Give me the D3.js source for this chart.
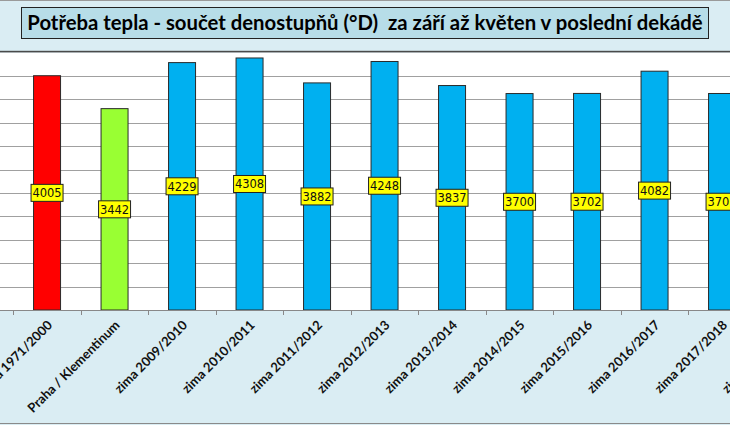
<!DOCTYPE html>
<html><head><meta charset="utf-8">
<script src="https://cdn.jsdelivr.net/npm/d3@7"></script>
<style>html,body{margin:0;padding:0;background:#fff;overflow:hidden}</style>
</head><body>
<svg id="c" width="730" height="425"></svg>
<script>
const title = "Potřeba tepla - součet denostupňů (°D)  za září až květen v poslední dekádě";
const categories = ["Praha / Klementinum - norma 1971/2000","Praha / Klementinum","zima 2009/2010","zima 2010/2011","zima 2011/2012","zima 2012/2013","zima 2013/2014","zima 2014/2015","zima 2015/2016","zima 2016/2017","zima 2017/2018","zima 2018/2019"];
const values = [4005,3442,4229,4308,3882,4248,3837,3700,3702,4082,3701,null];
const barColors = ["#ff0000","#99ff33","#00b0f0","#00b0f0","#00b0f0","#00b0f0","#00b0f0","#00b0f0","#00b0f0","#00b0f0","#00b0f0","#00b0f0"];
const yTicks = [400,800,1200,1600,2000,2400,2800,3200,3600,4000];
const yMax = 4400;

const W = 730, H = 425;
const svg = d3.select("#c");
const plotTop = 52.6, plotBottom = 310;

// background bands
svg.append("rect").attr("x",0).attr("y",0).attr("width",W).attr("height",H).attr("fill","#daedf3");
svg.append("rect").attr("x",0).attr("y",plotTop).attr("width",W).attr("height",plotBottom-plotTop).attr("fill","#ffffff");
svg.append("line").attr("x1",0).attr("x2",W).attr("y1",0.5).attr("y2",0.5).attr("stroke","#9a9a9a");
svg.append("rect").attr("x",0).attr("y",50.8).attr("width",W).attr("height",1.6).attr("fill","#4a4a4a");
svg.append("line").attr("x1",0).attr("x2",W).attr("y1",423.5).attr("y2",423.5).attr("stroke","#8a8a8a");

// title
const tb = svg.append("g");
tb.append("rect").attr("x",21.5).attr("y",7.5).attr("width",687).attr("height",31).attr("fill","#b7dde8").attr("stroke","#222").attr("stroke-width",1);
const tt = tb.append("text").attr("x",365).attr("y",30).attr("text-anchor","middle")
  .attr("xml:space","preserve").style("white-space","pre")
  .attr("font-family","Lato").attr("font-weight","bold").attr("font-size",20).attr("fill","#000").text(title);
const tw = tt.node().getComputedTextLength();
tt.attr("font-size", 20*676/tw);

// scales
const x = d3.scaleBand().domain(categories).range([13.3, 13.3+12*67.5]).paddingInner(0.6).paddingOuter(0.3);
const y = d3.scaleLinear().domain([0,yMax]).range([plotBottom, plotTop]);
const step = x.step();

// gridlines
svg.append("g").selectAll("line").data(yTicks).join("line")
  .attr("x1",0).attr("x2",W).attr("y1",d=>Math.round(y(d))+0.5).attr("y2",d=>Math.round(y(d))+0.5)
  .attr("stroke","#a0a0a0").attr("stroke-width",1);

// bars
const data = categories.map((c,i)=>({c, v:values[i], col:barColors[i]})).filter(d=>d.v!=null);
svg.append("g").selectAll("rect").data(data).join("rect")
  .attr("x",d=>x(d.c)).attr("y",d=>y(d.v)).attr("width",x.bandwidth()).attr("height",d=>plotBottom-y(d.v))
  .attr("fill",d=>d.col).attr("stroke","#2a2a2a").attr("stroke-width",1);

// axis
svg.append("line").attr("x1",0).attr("x2",W).attr("y1",plotBottom+0.5).attr("y2",plotBottom+0.5).attr("stroke","#888");
svg.append("g").selectAll("line").data(categories).join("line")
  .attr("x1",d=>Math.round(x(d)-step*0.3)+0.5).attr("x2",d=>Math.round(x(d)-step*0.3)+0.5)
  .attr("y1",plotBottom).attr("y2",plotBottom+5).attr("stroke","#888");

// category labels
svg.append("g").selectAll("text").data(categories).join("text")
  .attr("transform",d=>`translate(${x(d)+x.bandwidth()/2+6},${plotBottom+16}) rotate(-45)`)
  .attr("text-anchor","end").attr("font-family","Lato").attr("font-weight","bold").attr("font-size",13)
  .attr("fill","#111").text(d=>d);

// value labels
const lg = svg.append("g").selectAll("g").data(data).join("g")
  .attr("transform",d=>`translate(${x(d.c)+x.bandwidth()/2},${(y(d.v)+plotBottom)/2})`);
lg.append("rect").attr("x",-16).attr("y",-8.5).attr("width",32).attr("height",17)
  .attr("fill","#ffff00").attr("stroke","#222").attr("stroke-width",1);
lg.append("text").attr("text-anchor","middle").attr("y",4.2)
  .attr("font-family","DejaVu Sans").attr("font-size",11.5).attr("fill","#111").text(d=>d.v);
</script>
</body></html>
